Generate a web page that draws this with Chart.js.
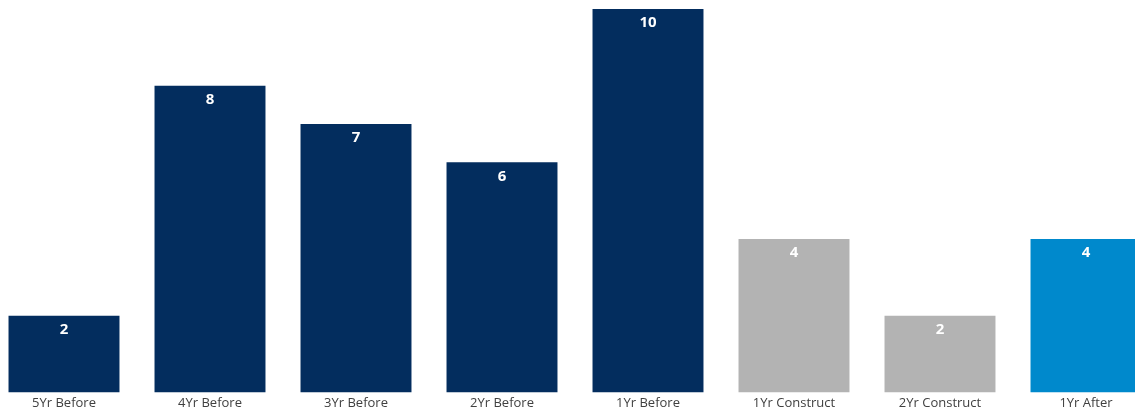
<!DOCTYPE html>
<html>
<head>
<meta charset="utf-8">
<script src="https://cdn.jsdelivr.net/npm/chart.js@4.4.1/dist/chart.umd.min.js"></script>
<style>
  html, body { margin: 0; padding: 0; background: #fff; overflow: hidden; }
  #wrap { position: absolute; left: -9.5px; top: 0; width: 1168px; height: 412px; }
</style>
</head>
<body>
<div id="wrap"><canvas id="barChart"></canvas></div>
<script>
const periods = ['5Yr Before', '4Yr Before', '3Yr Before', '2Yr Before', '1Yr Before', '1Yr Construct', '2Yr Construct', '1Yr After'];
const counts = [2, 8, 7, 6, 10, 4, 2, 4];
const barColors = ['#032D5E', '#032D5E', '#032D5E', '#032D5E', '#032D5E', '#B3B3B3', '#B3B3B3', '#0089CC'];

// white value labels just under the top of each bar
const valueLabels = {
    id: 'valueLabels',
    afterDatasetsDraw(chart) {
        const ctx = chart.ctx;
        const meta = chart.getDatasetMeta(0);
        ctx.save();
        ctx.fillStyle = '#ffffff';
        ctx.font = 'bold 15px "Open Sans", sans-serif';
        ctx.textAlign = 'center';
        ctx.textBaseline = 'middle';
        meta.data.forEach((bar, i) => {
            ctx.fillText(String(counts[i]), bar.x, bar.y + 14);
        });
        ctx.restore();
    }
};

new Chart(document.getElementById('barChart'), {
    type: 'bar',
    data: {
        labels: periods,
        datasets: [{
            data: counts,
            backgroundColor: barColors,
            borderWidth: 0,
            barPercentage: 0.76,
            categoryPercentage: 1
        }]
    },
    options: {
        responsive: true,
        maintainAspectRatio: false,
        animation: false,
        layout: { padding: { top: 9, bottom: -2 } },
        plugins: {
            legend: { display: false },
            tooltip: { enabled: false }
        },
        scales: {
            x: {
                grid: { display: false, drawTicks: false },
                border: { display: false },
                ticks: {
                    color: '#404040',
                    font: { family: '"Open Sans", sans-serif', size: 13 },
                    padding: 3,
                    autoSkip: false,
                    maxRotation: 0
                }
            },
            y: {
                display: false,
                min: 0,
                max: 10
            }
        }
    },
    plugins: [valueLabels]
});
</script>
</body>
</html>
